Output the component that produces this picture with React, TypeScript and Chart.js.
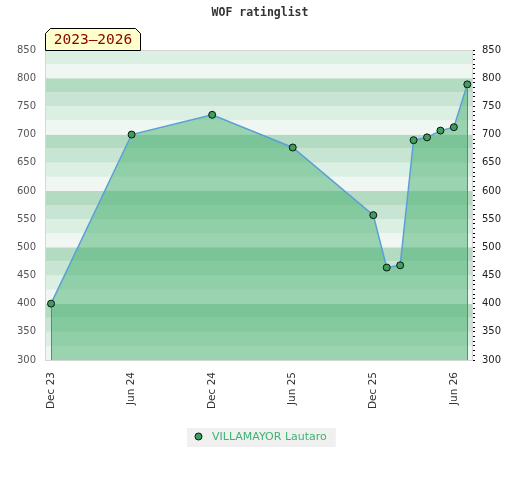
import React, { useEffect, useRef } from "react";
import { Chart, registerables } from "chart.js";

Chart.register(...registerables);

const chartTitle = "WOF ratinglist";
const periodTag = "2023–2026";
const playerName = "VILLAMAYOR Lautaro";

const dates = ["2023-12", "2024-06", "2024-12", "2025-06", "2025-12", "2026-01", "2026-02", "2026-03", "2026-04", "2026-05", "2026-06", "2026-07"];
const ratings = [400, 700, 735, 677, 557, 464, 468, 690, 695, 707, 713, 789];

const xTickDates = ["2023-12", "2024-06", "2024-12", "2025-06", "2025-12", "2026-06"];
const xTickLabels = ["Dec 23", "Jun 24", "Dec 24", "Jun 25", "Dec 25", "Jun 26"];

const yTicks = [300, 350, 400, 450, 500, 550, 600, 650, 700, 750, 800, 850];
const minorPerMajor = 6;

const bandColors = ["#f0f7f2", "#dcefe3", "#c7e5d2", "#b3dbc1"];

const monthIndex = (s: string) => {
  const [y, m] = s.split("-").map(Number);
  return (y - 2023) * 12 + (m - 12);
};

const points = dates.map((d, i) => ({ x: monthIndex(d), y: ratings[i] }));

const decorPlugin = {
  id: "decor",
  beforeDatasetsDraw(chart: any) {
    const { ctx, chartArea: a, scales } = chart;
    const ys = scales.y;
    ctx.save();
    const lo = yTicks[0];
    const hi = yTicks[yTicks.length - 1];
    for (let v = lo; v < hi; v += 25) {
      const idx = ((v % 100) / 25) | 0;
      ctx.fillStyle = bandColors[idx];
      const yTop = ys.getPixelForValue(v + 25);
      const yBot = ys.getPixelForValue(v);
      ctx.fillRect(a.left, yTop, a.right - a.left, yBot - yTop);
    }
    ctx.strokeStyle = "#d6d6d6";
    ctx.lineWidth = 1;
    ctx.strokeRect(a.left + 0.5, a.top + 0.5, a.right - a.left, a.bottom - a.top);
    ctx.restore();
  },
  afterDatasetsDraw(chart: any) {
    const { ctx, chartArea: a, scales } = chart;
    const xs = scales.x;
    const ys = scales.y;
    ctx.save();
    ctx.strokeStyle = "#3d9e5e";
    ctx.lineWidth = 1;
    const ends = [points[0], points[points.length - 1]];
    ends.forEach((p) => {
      const px = Math.round(xs.getPixelForValue(p.x)) + 0.5;
      const py = ys.getPixelForValue(p.y) + 4;
      ctx.beginPath();
      ctx.moveTo(px, py);
      ctx.lineTo(px, a.bottom);
      ctx.stroke();
    });
    ctx.restore();
  },
  afterDraw(chart: any) {
    const { ctx, chartArea: a, width } = chart;
    ctx.save();
    // title
    ctx.font = 'bold 11.5px "DejaVu Sans Mono"';
    ctx.fillStyle = "#333";
    ctx.textAlign = "center";
    ctx.textBaseline = "middle";
    ctx.fillText(chartTitle, width / 2, 13);
    // tag
    const x0 = a.left + 0.5, y0 = 28.5, x1 = 140.5, y1 = a.top + 0.5, b = 5;
    ctx.beginPath();
    ctx.moveTo(x0, y1);
    ctx.lineTo(x0, y0 + b);
    ctx.lineTo(x0 + b, y0);
    ctx.lineTo(x1 - b, y0);
    ctx.lineTo(x1, y0 + b);
    ctx.lineTo(x1, y1);
    ctx.closePath();
    ctx.fillStyle = "#ffffcc";
    ctx.fill();
    ctx.strokeStyle = "#000";
    ctx.lineWidth = 1;
    ctx.stroke();
    ctx.font = '14.5px "DejaVu Sans Mono"';
    ctx.fillStyle = "#8b0000";
    ctx.textAlign = "center";
    ctx.textBaseline = "middle";
    ctx.fillText(periodTag, (x0 + x1) / 2, 40.5);
    // legend
    ctx.font = '11px "DejaVu Sans"';
    const tw = ctx.measureText(playerName).width;
    const bw = 25 + tw + 9;
    const bx = Math.round(261 - bw / 2);
    const by = 428;
    ctx.fillStyle = "#f0f0f0";
    ctx.fillRect(bx, by, bw, 19);
    ctx.beginPath();
    ctx.arc(bx + 11.5, by + 8.5, 3.5, 0, Math.PI * 2);
    ctx.fillStyle = "#3c9f5c";
    ctx.fill();
    ctx.strokeStyle = "#111";
    ctx.stroke();
    ctx.fillStyle = "#3cb371";
    ctx.textAlign = "left";
    ctx.textBaseline = "middle";
    ctx.fillText(playerName, bx + 25, by + 9.5);
    ctx.restore();
  },
};

export default function App() {
  const ref = useRef<HTMLCanvasElement | null>(null);
  useEffect(() => {
    if (!ref.current) return;
    const yMin = yTicks[0];
    const yMax = yTicks[yTicks.length - 1];
    const chart = new Chart(ref.current, {
      type: "line",
      data: {
        datasets: [
          {
            label: playerName,
            data: points,
            borderColor: "#5a9fd8",
            borderWidth: 1.5,
            backgroundColor: "rgba(60,172,105,0.48)",
            fill: "start",
            tension: 0,
            pointRadius: 3.5,
            pointBackgroundColor: "#3c9f5c",
            pointBorderColor: "#111",
            pointBorderWidth: 1,
          },
        ],
      },
      options: {
        animation: false,
        responsive: false,
        devicePixelRatio: 1,
        layout: { padding: { top: 50, left: 0, right: 0, bottom: 0 } },
        plugins: { legend: { display: false }, title: { display: false }, tooltip: { enabled: false } },
        scales: {
          x: {
            type: "linear",
            min: -0.45,
            max: 31.35,
            grid: { display: false, drawTicks: false },
            border: { display: false },
            afterBuildTicks: (s: any) => {
              s.ticks = xTickDates.map((d) => ({ value: monthIndex(d) }));
            },
            afterFit: (s: any) => {
              s.height = 120;
            },
            ticks: {
              minRotation: 90,
              maxRotation: 90,
              autoSkip: false,
              padding: 12,
              color: "#333",
              font: { family: "DejaVu Sans", size: 10.5 },
              callback: (v: any) => {
                const i = xTickDates.findIndex((d) => monthIndex(d) === v);
                return i >= 0 ? xTickLabels[i] : "";
              },
            },
          },
          y: {
            type: "linear",
            position: "left",
            min: yMin,
            max: yMax,
            grid: { display: false, drawTicks: false },
            border: { display: false },
            afterBuildTicks: (s: any) => {
              s.ticks = yTicks.map((v) => ({ value: v }));
            },
            afterFit: (s: any) => {
              s.width = 45;
            },
            ticks: {
              padding: 9,
              color: "#555",
              font: { family: "DejaVu Sans", size: 10 },
            },
          },
          y2: {
            type: "linear",
            position: "right",
            min: yMin,
            max: yMax,
            grid: { display: true, drawOnChartArea: false, drawTicks: true, tickLength: 3, color: "#000", lineWidth: 1 },
            border: { display: false },
            afterBuildTicks: (s: any) => {
              const t: any[] = [];
              for (let i = 0; i < yTicks.length; i++) {
                t.push({ value: yTicks[i] });
                if (i < yTicks.length - 1) {
                  const step = (yTicks[i + 1] - yTicks[i]) / minorPerMajor;
                  for (let k = 1; k < minorPerMajor; k++) t.push({ value: yTicks[i] + k * step });
                }
              }
              s.ticks = t;
            },
            afterFit: (s: any) => {
              s.width = 48;
            },
            ticks: {
              autoSkip: false,
              padding: 7,
              color: "#222",
              font: { family: "DejaVu Sans", size: 10 },
              callback: (v: any) => (yTicks.includes(v) ? String(v) : ""),
            },
          },
        },
      },
      plugins: [decorPlugin],
    });
    return () => chart.destroy();
  }, []);
  return (
    <div style={{ position: "absolute", left: 0, top: 0, width: 520, height: 480, background: "#fff" }}>
      <canvas ref={ref} width={520} height={480} style={{ display: "block" }} />
    </div>
  );
}
